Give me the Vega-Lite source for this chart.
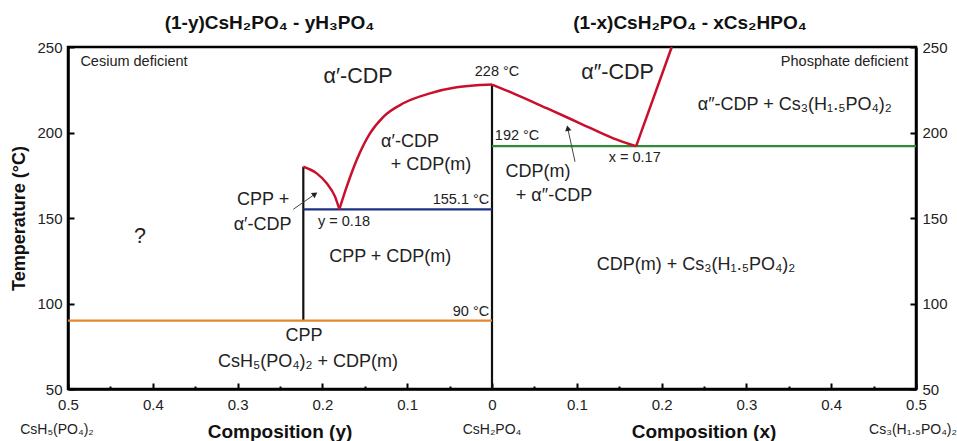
{
  "$schema": "https://vega.github.io/schema/vega-lite/v6.json",
  "width": 848,
  "height": 342,
  "autosize": {"type": "none"},
  "padding": {"left": 68, "top": 47, "right": 41, "bottom": 52},
  "background": "white",
  "config": {
    "view": {"stroke": "black", "strokeWidth": 2.5},
    "font": "Liberation Sans",
    "axis": {"domainColor": "black", "domainWidth": 2.5, "tickColor": "black", "tickWidth": 2, "grid": false, "labelFont": "Liberation Sans", "labelFontSize": 15, "labelColor": "#222"}
  },
  "datasets": {
    "lines": [
      {"s": "v0", "o": 0, "x": 0, "t": 50}, {"s": "v0", "o": 1, "x": 0, "t": 228},
      {"s": "v1", "o": 0, "x": -0.2225, "t": 90}, {"s": "v1", "o": 1, "x": -0.2225, "t": 180},
      {"s": "h90", "o": 0, "x": -0.5, "t": 90}, {"s": "h90", "o": 1, "x": 0, "t": 90},
      {"s": "h155", "o": 0, "x": -0.2225, "t": 155.1}, {"s": "h155", "o": 1, "x": 0, "t": 155.1},
      {"s": "h192", "o": 0, "x": 0, "t": 192}, {"s": "h192", "o": 1, "x": 0.5, "t": 192}
    ],
    "curves": [
      {"s": "c1", "x": -0.2225, "t": 180}, {"s": "c1", "x": -0.2067, "t": 176.1}, {"s": "c1", "x": -0.1949, "t": 170.3}, {"s": "c1", "x": -0.1851, "t": 162.5}, {"s": "c1", "x": -0.18, "t": 155.1},
      {"s": "c2", "x": -0.18, "t": 155.1}, {"s": "c2", "x": -0.1713, "t": 168.3}, {"s": "c2", "x": -0.1596, "t": 183.9}, {"s": "c2", "x": -0.1439, "t": 199.5}, {"s": "c2", "x": -0.1281, "t": 209.2}, {"s": "c2", "x": -0.1046, "t": 217.1}, {"s": "c2", "x": -0.0731, "t": 222.9}, {"s": "c2", "x": -0.0417, "t": 226.4}, {"s": "c2", "x": -0.018, "t": 227.6}, {"s": "c2", "x": 0, "t": 228},
      {"s": "c3", "x": 0, "t": 228}, {"s": "c3", "x": 0.0251, "t": 222.9}, {"s": "c3", "x": 0.0645, "t": 214.2}, {"s": "c3", "x": 0.1038, "t": 205.4}, {"s": "c3", "x": 0.143, "t": 196.6}, {"s": "c3", "x": 0.17, "t": 192},
      {"s": "c4", "x": 0.17, "t": 192}, {"s": "c4", "x": 0.212, "t": 250}
    ],
    "arrows": [
      {"id": "a1", "x": -0.2343, "t": 155.1, "x2": -0.2087, "t2": 164.0},
      {"id": "a2", "x": 0.0979, "t": 182.9, "x2": 0.0893, "t2": 202.5}
    ],
    "heads": [
      {"id": "a1", "x": -0.2087, "t": 164.0},
      {"id": "a2", "x": 0.0893, "t": 202.5}
    ],
    "smallText": [
      {"x": -0.4222, "t": 241.4, "label": "Cesium deficient"},
      {"x": 0.4157, "t": 241.4, "label": "Phosphate deficient"},
      {"x": 0.0059, "t": 235.6, "label": "228 °C"},
      {"x": -0.0366, "t": 160.5, "label": "155.1 °C"},
      {"x": 0.0296, "t": 198, "label": "192 °C"},
      {"x": -0.0248, "t": 95.2, "label": "90 °C"},
      {"x": 0.1683, "t": 184.9, "label": "x = 0.17"},
      {"x": -0.1745, "t": 147.8, "label": "y = 0.18"}
    ],
    "regionText": [
      {"x": -0.0967, "t": 194.6, "label": "α′-CDP"},
      {"x": -0.072, "t": 181, "label": "+ CDP(m)"},
      {"x": 0.0542, "t": 177.1, "label": "CDP(m)"},
      {"x": 0.0731, "t": 162.9, "label": "+ α″-CDP"},
      {"x": 0.2406, "t": 122.5, "label": "CDP(m) + Cs₃(H₁.₅PO₄)₂"},
      {"x": 0.357, "t": 216.1, "label": "α″-CDP + Cs₃(H₁.₅PO₄)₂"},
      {"x": -0.27, "t": 160.5, "label": "CPP +"},
      {"x": -0.2706, "t": 145.9, "label": "α′-CDP"},
      {"x": -0.12, "t": 127.4, "label": "CPP + CDP(m)"},
      {"x": -0.2217, "t": 81, "label": "CPP"},
      {"x": -0.217, "t": 66, "label": "CsH₅(PO₄)₂ + CDP(m)"}
    ],
    "bigText": [
      {"x": -0.158, "t": 232.5, "label": "α′-CDP"},
      {"x": 0.148, "t": 234.6, "label": "α″-CDP"},
      {"x": -0.415, "t": 139, "label": "?"}
    ],
    "titleText": [
      {"x": -0.2624, "t": 264, "label": "(1-y)CsH₂PO₄ - yH₃PO₄"},
      {"x": 0.2335, "t": 264, "label": "(1-x)CsH₂PO₄ - xCs₂HPO₄"},
      {"x": -0.25, "t": 24.9, "label": "Composition (y)"},
      {"x": 0.25, "t": 24.9, "label": "Composition (x)"}
    ],
    "compText": [
      {"x": -0.513, "t": 26.2, "label": "CsH₅(PO₄)₂"},
      {"x": 0, "t": 26.2, "label": "CsH₂PO₄"},
      {"x": 0.4965, "t": 26.2, "label": "Cs₃(H₁.₅PO₄)₂"}
    ]
  },
  "encoding": {
    "x": {
      "field": "x", "type": "quantitative",
      "scale": {"domain": [-0.5, 0.5], "nice": false, "zero": false},
      "axis": {
        "title": null,
        "values": [-0.5, -0.45, -0.4, -0.35, -0.3, -0.25, -0.2, -0.15, -0.1, -0.05, 0, 0.05, 0.1, 0.15, 0.2, 0.25, 0.3, 0.35, 0.4, 0.45, 0.5],
        "labelExpr": "abs(round(datum.value*100)) % 10 == 0 ? format(abs(datum.value), '.1~f') : ''",
        "tickSize": {"condition": {"test": "abs(round(datum.value*100)) % 10 == 0", "value": -6}, "value": -3},
        "labelPadding": 14,
        "labelFlush": false,
        "labelOverlap": false
      }
    }
  },
  "layer": [
    {
      "data": {"name": "lines"},
      "mark": {"type": "line", "strokeWidth": 2.2},
      "encoding": {
        "y": {"field": "t", "type": "quantitative", "scale": {"domain": [50, 250], "nice": false, "zero": false},
          "axis": {"title": "Temperature (°C)", "titleFontSize": 18, "titleFontWeight": "bold", "titleFont": "Liberation Sans", "titleColor": "#111", "titlePadding": 8, "values": [50, 100, 150, 200, 250], "tickSize": -6, "labelPadding": 12}},
        "color": {"field": "s", "type": "nominal", "scale": {"domain": ["v0", "v1", "h90", "h155", "h192"], "range": ["#111111", "#111111", "#e2892d", "#1d2f80", "#2f8a34"]}, "legend": null},
        "order": {"field": "o", "type": "quantitative"}
      }
    },
    {
      "data": {"name": "curves"},
      "mark": {"type": "line", "strokeWidth": 2.5, "color": "#c8102e", "interpolate": "monotone"},
      "encoding": {
        "y": {"field": "t", "type": "quantitative", "scale": {"domain": [50, 250], "nice": false, "zero": false},
          "axis": {"orient": "right", "title": null, "values": [50, 100, 150, 200, 250], "tickSize": -6, "labelPadding": 12}},
        "detail": {"field": "s", "type": "nominal"}
      }
    },
    {
      "data": {"name": "arrows"},
      "mark": {"type": "rule", "color": "#444", "strokeWidth": 1},
      "encoding": {
        "x2": {"field": "x2"},
        "y": {"field": "t", "type": "quantitative", "scale": {"domain": [50, 250], "nice": false, "zero": false}, "axis": null},
        "y2": {"field": "t2"}
      }
    },
    {
      "data": {"name": "heads"},
      "transform": [{"filter": "datum.id == 'a1'"}],
      "mark": {"type": "point", "shape": "triangle-up", "filled": true, "color": "#222", "size": 40, "opacity": 1, "angle": 55},
      "encoding": {
        "y": {"field": "t", "type": "quantitative", "scale": {"domain": [50, 250], "nice": false, "zero": false}, "axis": null}
      }
    },
    {
      "data": {"name": "heads"},
      "transform": [{"filter": "datum.id == 'a2'"}],
      "mark": {"type": "point", "shape": "triangle-up", "filled": true, "color": "#222", "size": 40, "opacity": 1, "angle": 348},
      "encoding": {
        "y": {"field": "t", "type": "quantitative", "scale": {"domain": [50, 250], "nice": false, "zero": false}, "axis": null}
      }
    },
    {
      "data": {"name": "smallText"},
      "mark": {"type": "text", "fontSize": 14.5, "font": "Liberation Sans", "color": "#222", "baseline": "middle"},
      "encoding": {
        "y": {"field": "t", "type": "quantitative", "scale": {"domain": [50, 250], "nice": false, "zero": false}, "axis": null},
        "text": {"field": "label"}
      }
    },
    {
      "data": {"name": "regionText"},
      "mark": {"type": "text", "fontSize": 18, "font": "Liberation Sans", "color": "#222", "baseline": "middle"},
      "encoding": {
        "y": {"field": "t", "type": "quantitative", "scale": {"domain": [50, 250], "nice": false, "zero": false}, "axis": null},
        "text": {"field": "label"}
      }
    },
    {
      "data": {"name": "bigText"},
      "mark": {"type": "text", "fontSize": 21.5, "font": "Liberation Sans", "color": "#222", "baseline": "middle"},
      "encoding": {
        "y": {"field": "t", "type": "quantitative", "scale": {"domain": [50, 250], "nice": false, "zero": false}, "axis": null},
        "text": {"field": "label"}
      }
    },
    {
      "data": {"name": "titleText"},
      "mark": {"type": "text", "fontSize": 19, "fontWeight": "bold", "font": "Liberation Sans", "color": "#111", "baseline": "middle"},
      "encoding": {
        "y": {"field": "t", "type": "quantitative", "scale": {"domain": [50, 250], "nice": false, "zero": false}, "axis": null},
        "text": {"field": "label"}
      }
    },
    {
      "data": {"name": "compText"},
      "mark": {"type": "text", "fontSize": 14, "font": "Liberation Sans", "color": "#222", "baseline": "middle"},
      "encoding": {
        "y": {"field": "t", "type": "quantitative", "scale": {"domain": [50, 250], "nice": false, "zero": false}, "axis": null},
        "text": {"field": "label"}
      }
    }
  ],
  "resolve": {"axis": {"y": "independent"}}
}
